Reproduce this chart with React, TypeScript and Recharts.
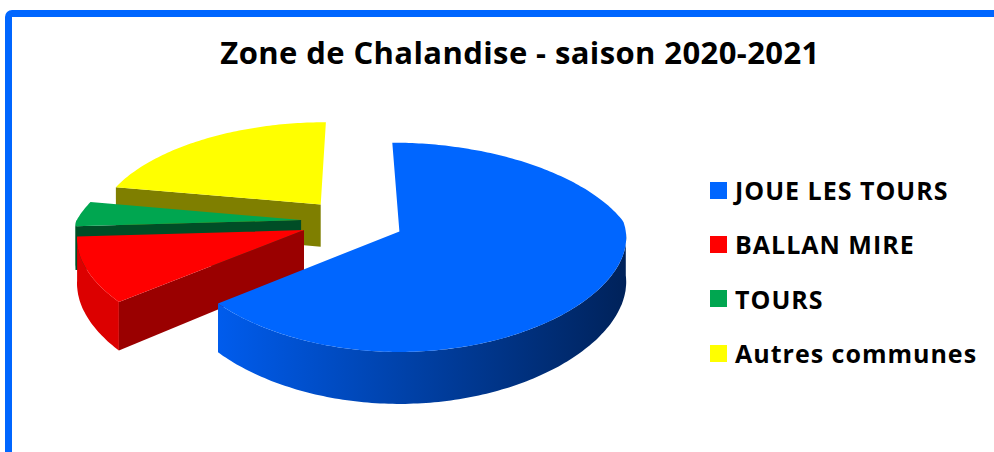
import React from 'react';
import { PieChart, Pie, Cell, Legend } from 'recharts';

const communes = ['JOUE LES TOURS', 'BALLAN MIRE', 'TOURS', 'Autres communes'];
const parts = [64, 10, 4, 22];
const colors = ['#0066ff', '#ff0000', '#00a650', '#ffff00'];
const faceColors = ['#0044b0', '#9a0000', '#004d26', '#7f7f00'];
const wallColors = ['url(#blueWall)', '#dc0000', '#007a3a', '#b0b000'];

// drawn counter-clockwise from 12 o'clock so the big blue slice is painted last (in front)
const order = [3, 2, 1, 0];
const pieData = order.map((i) => ({ name: communes[i], value: parts[i] }));

const TILT = 0.441;
const DEPTH = 0.193;
const EXPLODE = 0.23;
const PERSP_Y = 0.15;
const PERSP_X_BACK = 0.2;
const PERSP_X_FRONT = 0.06;
const FRONT_VX = 400;

type P = [number, number];

// u = right, v = away from viewer (both in radius units), dh = 0 top / 1 bottom
function project(cx: number, cy: number, r: number, u: number, v: number, dh = 0): P {
  const sy = 1 / (1 + PERSP_Y * v);
  const x0 = cx + r * u;
  const x = v > 0 ? cx + (x0 - cx) / (1 + PERSP_X_BACK * v) : FRONT_VX + (x0 - FRONT_VX) / (1 + PERSP_X_FRONT * v);
  return [x, cy + (-r * TILT * v + r * DEPTH * dh) * sy];
}

const toPath = (pts: P[]) => 'M' + pts.map((p) => p[0].toFixed(1) + ',' + p[1].toFixed(1)).join('L') + 'Z';

function Slice3D(props: any) {
  const { cx, cy, outerRadius: r, startAngle, endAngle, index } = props;
  const c = order[index];
  const lo = Math.min(startAngle, endAngle);
  const hi = Math.max(startAngle, endAngle);
  const rad = (d: number) => (d * Math.PI) / 180;
  const mid = rad((lo + hi) / 2);
  const au = EXPLODE * Math.cos(mid);
  const av = EXPLODE * Math.sin(mid);

  const at = (deg: number, dh = 0) => project(cx, cy, r, au + Math.cos(rad(deg)), av + Math.sin(rad(deg)), dh);
  const apex = (dh = 0) => project(cx, cy, r, au, av, dh);

  const arc = (a1: number, a2: number, dh: number) => {
    const n = Math.max(2, Math.ceil(Math.abs(a2 - a1)));
    const out: P[] = [];
    for (let i = 0; i <= n; i++) out.push(at(a1 + ((a2 - a1) * i) / n, dh));
    return out;
  };

  const walls: string[] = [];
  for (const k of [-360, 0, 360]) {
    const a1 = Math.max(lo, 180 + k);
    const a2 = Math.min(hi, 360 + k);
    if (a2 > a1) walls.push(toPath([...arc(a1, a2, 0), ...arc(a2, a1, 1)]));
  }

  const faces: string[] = [];
  const face = (a: number) => toPath([apex(), at(a), at(a, 1), apex(1)]);
  if (Math.cos(rad(lo)) > 0.001) faces.push(face(lo));
  if (Math.cos(rad(hi)) < -0.001) faces.push(face(hi));

  const top = toPath([apex(), ...arc(lo, hi, 0)]);

  return (
    <g key={'s' + index}>
      {c === 0 && (
        <defs>
          <linearGradient id="blueWall" x1="0" y1="0" x2="1" y2="0">
            <stop offset="0" stopColor="#005ced" />
            <stop offset="0.45" stopColor="#0042aa" />
            <stop offset="1" stopColor="#00225a" />
          </linearGradient>
        </defs>
      )}
      {walls.map((d, i) => (
        <path key={'w' + i} d={d} fill={wallColors[c]} />
      ))}
      {faces.map((d, i) => (
        <path key={'f' + i} d={d} fill={faceColors[c]} />
      ))}
      <path d={top} fill={colors[c]} />
    </g>
  );
}

const renderLegend = ({ payload }: any) => {
  const items = [...(payload || [])].sort((a: any, b: any) => communes.indexOf(a.value) - communes.indexOf(b.value));
  return (
    <div>
      {items.map((p: any) => (
        <div key={p.value} style={{ display: 'flex', alignItems: 'center', height: 54.3 }}>
          <span style={{ width: 17, height: 17, background: p.color, marginRight: 8, flex: 'none' }} />
          <span style={{ font: 'bold 25px "Open Sans"', letterSpacing: 1, color: '#000', whiteSpace: 'nowrap' }}>
            {p.value}
          </span>
        </div>
      ))}
    </div>
  );
};

export default function App() {
  return (
    <div style={{ position: 'absolute', left: 0, top: 0, width: 994, height: 452, overflow: 'hidden', background: '#fff' }}>
      <div
        style={{
          position: 'absolute',
          left: 5,
          top: 10,
          width: 1200,
          height: 800,
          border: '7px solid #0066ff',
          borderRadius: 7,
        }}
      />
      <div
        style={{
          position: 'absolute',
          left: 0,
          width: 1040,
          top: 37,
          textAlign: 'center',
          font: 'bold 31px "Open Sans"',
          letterSpacing: 0.4,
          lineHeight: '31px',
          color: '#000',
          whiteSpace: 'nowrap',
        }}
      >
        Zone de Chalandise - saison 2020-2021
      </div>
      <div style={{ position: 'absolute', left: 0, top: 0 }}>
        <PieChart width={994} height={452} margin={{ top: 0, right: 0, bottom: 0, left: 0 }}>
          <Pie
            data={pieData}
            dataKey="value"
            nameKey="name"
            cx={352.6}
            cy={221.5}
            outerRadius={225}
            startAngle={90}
            endAngle={450}
            stroke="none"
            fillOpacity={0}
            label={Slice3D}
            labelLine={false}
            isAnimationActive={false}
          >
            {pieData.map((d, i) => (
              <Cell key={d.name} fill={colors[order[i]]} />
            ))}
          </Pie>
          <Legend
            layout="vertical"
            align="right"
            verticalAlign="top"
            content={renderLegend}
            wrapperStyle={{ left: 710, top: 163, width: 280 }}
          />
        </PieChart>
      </div>
    </div>
  );
}
